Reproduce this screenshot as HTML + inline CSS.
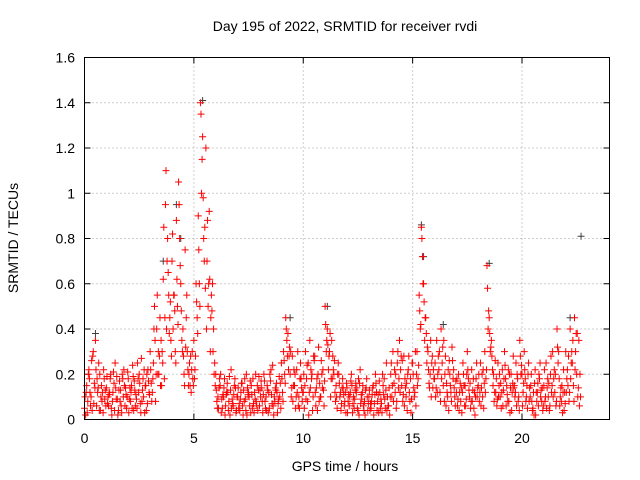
<!DOCTYPE html>
<html><head><meta charset="utf-8"><style>
body{margin:0;background:#fff}
svg{display:block;font-family:"Liberation Sans",sans-serif}
</style></head><body>
<svg id="c" width="640" height="480">
<text x="345" y="31" font-size="14" text-anchor="middle">Day 195 of 2022, SRMTID for receiver rvdi</text>
<text x="345" y="471" font-size="14" text-anchor="middle">GPS time / hours</text>
<text transform="translate(18,238) rotate(-90)" font-size="14" text-anchor="middle">SRMTID / TECUs</text>
<g id="grid"></g><g id="marks"></g>
<rect x="84.5" y="57.5" width="525" height="362" fill="none" stroke="#000"/>
</svg>
<script>
const xTicks=[0,5,10,15,20];
const yTicks=[0,0.2,0.4,0.6,0.8,1,1.2,1.4,1.6];
const yTickLabels=["0","0.2","0.4","0.6","0.8","1","1.2","1.4","1.6"];
const seriesA=[.05,.15,.22,.10,.30,.35,.12,.20,.08,.18,
.14,.06,.20,.12,.25,.09,.17,.03,.22,.11,
.18,.08,.24,.13,.05,.20,.27,.10,.15,.22,
.30,.12,.50,.40,.20,.35,.62,.95,.80,.45,
.70,.55,.88,1.05,.60,.40,.75,.30,.25,.22,
.35,.60,.90,1.40,1.25,.85,.70,.92,.55,.40,
.20,.10,.15,.05,.18,.12,.08,.22,.06,.14,
.10,.04,.16,.08,.20,.12,.03,.18,.09,.15,
.06,.14,.20,.10,.03,.17,.24,.08,.12,.19,
.25,.30,.45,.38,.20,.28,.15,.22,.10,.18,
.12,.30,.08,.35,.20,.26,.14,.32,.10,.22,
.50,.40,.30,.35,.20,.15,.25,.12,.18,.08,
.14,.06,.20,.10,.16,.04,.22,.12,.08,.18,
.10,.05,.15,.20,.08,.12,.03,.18,.25,.06,
.20,.30,.12,.25,.35,.15,.28,.10,.22,.18,
.25,.12,.30,.55,.85,.60,.45,.30,.20,.28,
.18,.35,.22,.40,.15,.28,.10,.20,.32,.14,
.12,.20,.08,.25,.15,.30,.10,.22,.05,.18,
.15,.25,.10,.30,.68,.45,.35,.20,.12,.25,
.10,.22,.30,.15,.08,.20,.28,.12,.18,.35,
.20,.30,.10,.25,.15,.05,.22,.12,.18,.08,
.15,.25,.10,.20,.30,.12,.40,.18,.08,.22,
.30,.15,.40,.25,.45,.20,.35];
const seriesB=[.02,.08,.12,.04,.16,.06,.25,.10,.03,.13,
.07,.12,.02,.16,.09,.04,.13,.18,.06,.10,
.09,.15,.04,.11,.18,.07,.13,.03,.20,.12,
.16,.25,.08,.20,.45,.30,.18,.40,.55,.35,
.40,.30,.50,.80,.35,.20,.45,.15,.28,.18,
.22,.45,.60,1.00,.80,1.20,.50,.30,.60,.25,
.08,.14,.03,.10,.06,.12,.02,.09,.15,.04,
.05,.12,.02,.09,.14,.06,.11,.03,.08,.13,
.10,.03,.08,.15,.05,.11,.02,.13,.07,.16,
.12,.20,.35,.28,.10,.15,.05,.30,.18,.08,
.05,.18,.02,.22,.10,.12,.04,.16,.20,.06,
.30,.22,.10,.28,.12,.05,.16,.07,.11,.03,
.08,.12,.03,.09,.14,.02,.11,.06,.13,.04,
.04,.11,.07,.12,.03,.09,.15,.05,.10,.02,
.10,.16,.05,.14,.22,.08,.18,.04,.12,.09,
.14,.06,.18,.40,.72,.35,.25,.16,.10,.22,
.10,.20,.12,.25,.08,.16,.04,.12,.18,.06,
.06,.12,.03,.15,.09,.18,.05,.13,.02,.10,
.08,.14,.05,.18,.40,.30,.22,.12,.06,.15,
.05,.13,.18,.08,.03,.12,.15,.06,.10,.20,
.12,.18,.05,.14,.08,.02,.12,.06,.10,.04,
.08,.14,.04,.12,.18,.06,.25,.10,.03,.12,
.18,.08,.25,.15,.30,.10,.20];
const seriesC=[.10,.03,.18,.26,.07,.22,.14,.04,.12,.09,
.19,.11,.05,.21,.14,.02,.08,.20,.15,.05,
.03,.12,.19,.06,.25,.16,.08,.22,.04,.17,
.22,.18,.35,.55,.28,.15,.85,1.10,.65,.52,
.82,.48,.62,.95,.48,.28,.32,.22,.15,.30,
.18,.52,.75,1.35,.98,.58,.88,.62,.48,.20,
.13,.05,.20,.11,.02,.16,.19,.05,.11,.03,
.14,.09,.06,.18,.02,.10,.15,.07,.20,.04,
.13,.08,.17,.04,.12,.22,.06,.14,.03,.10,
.18,.26,.40,.22,.30,.08,.20,.12,.05,.14,
.20,.09,.25,.14,.04,.28,.18,.08,.26,.13,
.42,.33,.38,.18,.26,.10,.20,.04,.14,.12,
.03,.10,.15,.05,.12,.18,.07,.15,.02,.10,
.13,.08,.02,.16,.11,.05,.20,.09,.04,.14,
.25,.08,.20,.30,.12,.26,.06,.16,.28,.03,
.20,.30,.15,.48,.80,.52,.38,.22,.35,.14,
.25,.12,.30,.18,.35,.06,.22,.15,.26,.10,
.18,.04,.14,.20,.06,.22,.16,.08,.12,.25,
.20,.06,.22,.12,.58,.38,.28,.08,.18,.10,
.16,.06,.24,.11,.20,.04,.14,.25,.08,.28,
.06,.22,.15,.08,.20,.12,.02,.16,.25,.14,
.22,.05,.16,.28,.10,.20,.32,.06,.15,.04,
.12,.28,.18,.35,.22,.38,.06];
const seriesD=[.12,.20,.06,.28,.14,.18,.04,.15,.22,.06,
.10,.18,.08,.04,.19,.13,.06,.10,.14,.21,
.14,.05,.17,.09,.12,.03,.18,.15,.07,.11,
.08,.40,.20,.30,.15,.25,.45,.70,.38,.28,
.55,.25,.42,.68,.30,.15,.55,.20,.12,.15,
.28,.38,.50,1.15,.70,.40,.60,.45,.30,.15,
.05,.18,.09,.14,.11,.04,.13,.07,.18,.10,
.07,.16,.13,.04,.11,.17,.05,.12,.06,.19,
.17,.11,.05,.13,.20,.07,.10,.16,.09,.05,
.08,.16,.28,.32,.14,.22,.10,.06,.25,.12,
.15,.24,.12,.18,.28,.06,.20,.10,.14,.17,
.35,.28,.18,.22,.08,.20,.10,.14,.06,.16,
.11,.17,.07,.13,.05,.16,.09,.04,.14,.07,
.07,.14,.11,.04,.17,.07,.11,.13,.06,.10,
.15,.22,.08,.18,.28,.11,.14,.20,.08,.25,
.10,.20,.24,.42,.60,.45,.32,.14,.25,.18,
.14,.28,.08,.32,.20,.12,.26,.08,.22,.17,
.09,.16,.12,.06,.20,.13,.08,.18,.10,.14,
.12,.20,.16,.22,.48,.32,.15,.26,.09,.20,
.12,.18,.06,.22,.14,.16,.10,.20,.04,.24,
.16,.08,.20,.10,.04,.16,.08,.20,.13,.06,
.10,.18,.06,.15,.22,.08,.30,.14,.12,.07,
.22,.12,.30,.08,.38,.14,.10];
const greyTimes=[0.5,3.6,4.2,4.4,5.4,9.4,11.1,15.4,15.5,16.4,18.5,22.2,22.7];
const greyValues=[0.38,0.70,0.95,0.80,1.41,0.45,0.50,0.86,0.72,0.42,0.69,0.45,0.81];
const X0=84.5,X1=609.5,Y0=419.5,Y1=57.5;
const xs=v=>X0+v/24*(X1-X0), ys=v=>Y0-v/1.6*(Y0-Y1);
const NS="http://www.w3.org/2000/svg";
const grid=document.getElementById('grid'),marks=document.getElementById('marks');
function mk(tag,attrs,parent){const e=document.createElementNS(NS,tag);for(const k in attrs)e.setAttribute(k,attrs[k]);parent.appendChild(e);return e;}
xTicks.forEach(t=>{const x=xs(t);
 if(t>0&&t<24){const l=mk('line',{x1:x,x2:x,y1:Y0,y2:Y1,stroke:'#a0a0a0','stroke-dasharray':'1,3'},grid);
 
 }
 mk('line',{x1:x,x2:x,y1:Y0,y2:Y0-6,stroke:'#000'},grid);mk('line',{x1:x,x2:x,y1:Y1,y2:Y1+6,stroke:'#000'},grid);
 const tx=mk('text',{x:x,y:443,'font-size':14,'text-anchor':'middle'},grid);tx.textContent=t;
 
 });
yTicks.forEach((t,i)=>{const y=ys(t);
 if(t>0&&t<1.6){const l=mk('line',{x1:X0,x2:X1,y1:y,y2:y,stroke:'#a0a0a0','stroke-dasharray':'1,3'},grid);
 
 }
 mk('line',{x1:X0,x2:X0+6,y1:y,y2:y,stroke:'#000'},grid);mk('line',{x1:X1,x2:X1-6,y1:y,y2:y,stroke:'#000'},grid);
 const tx=mk('text',{x:75,y:y+5,'font-size':14,'text-anchor':'end'},grid);tx.textContent=yTickLabels[i];
 
 });
function plus(x,y,col,name){const p=mk('path',{d:`M${x-3.5},${y}h7M${x},${y-3.5}v7`,stroke:col,'stroke-width':1,fill:'none'},marks);
 
 }
greyTimes.forEach((t,i)=>plus(xs(t),ys(greyValues[i]),'#404040','grey-point'));
seriesA.forEach((v,i)=>plus(xs(i/10),ys(v),'#ff0000','red-point'));
seriesB.forEach((v,i)=>plus(xs(i/10+0.05),ys(v),'#ff0000','red-point'));
seriesC.forEach((v,i)=>plus(xs(i/10+0.025),ys(v),'#ff0000','red-point'));
seriesD.forEach((v,i)=>plus(xs(i/10+0.075),ys(v),'#ff0000','red-point'));
</script>
</body></html>
